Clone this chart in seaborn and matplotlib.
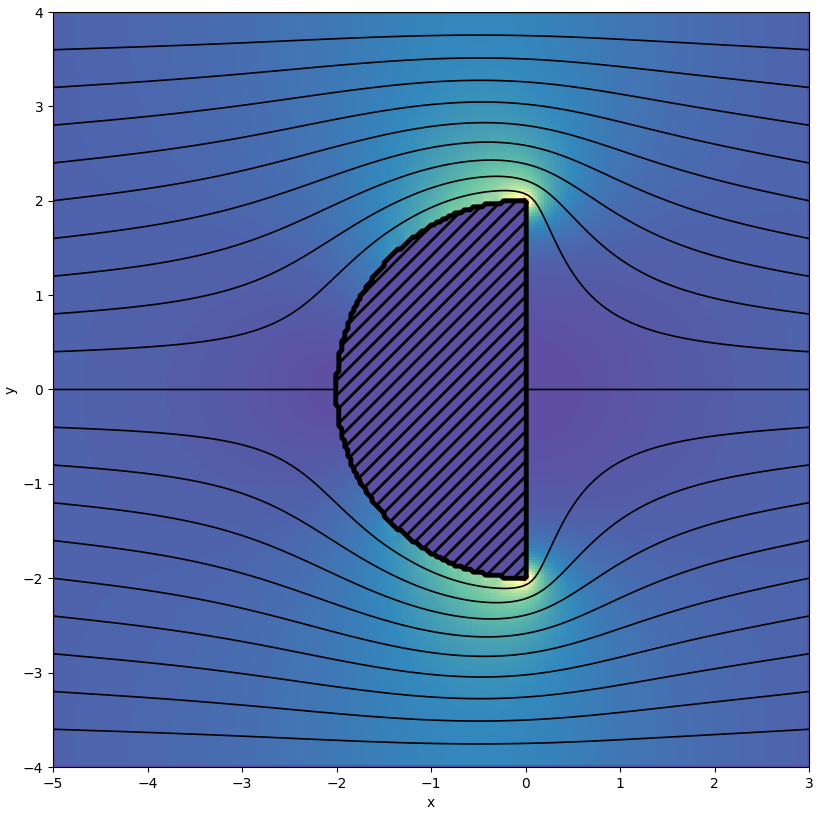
import numpy as np
import matplotlib
matplotlib.use("Agg")
import matplotlib.pyplot as plt
from matplotlib.patches import PathPatch
import seaborn as sns

# ---- data / problem definition ----
x_range = [-5.0, 3.0]
y_range = [-4.0, 4.0]
n_points = [251, 251]
body_radius = [2.0]
stream_levels = [-3.6, -3.2, -2.8, -2.4, -2.0, -1.6, -1.2, -0.8, -0.4, 0.0,
                 0.4, 0.8, 1.2, 1.6, 2.0, 2.4, 2.8, 3.2, 3.6]
x_ticks = [-5, -4, -3, -2, -1, 0, 1, 2, 3]
y_ticks = [-4, -3, -2, -1, 0, 1, 2, 3, 4]

# ---- grid & body (left half-disk) ----
x = np.linspace(x_range[0], x_range[1], n_points[0])
y = np.linspace(y_range[0], y_range[1], n_points[1])
X, Y = np.meshgrid(x, y)
R = body_radius[0]
body = (X**2 + Y**2 <= R**2) & (X <= 0)

# ---- stream function: Laplace with psi=y on box, psi=0 on body ----
psi = Y.copy()
psi[body] = 0.0
fixed = np.zeros_like(body)
fixed[0, :] = fixed[-1, :] = fixed[:, 0] = fixed[:, -1] = True
fixed |= body
ii, jj = np.indices(psi.shape)
red = ((ii + jj) % 2 == 0) & ~fixed
black = ((ii + jj) % 2 == 1) & ~fixed
masks = [red[1:-1, 1:-1].astype(float), black[1:-1, 1:-1].astype(float)]
omega = 2.0 / (1.0 + np.sin(np.pi / n_points[0]))
for it in range(2500):
    for m in masks:
        avg = 0.25 * (psi[2:, 1:-1] + psi[:-2, 1:-1] + psi[1:-1, 2:] + psi[1:-1, :-2])
        psi[1:-1, 1:-1] += omega * (avg - psi[1:-1, 1:-1]) * m

# ---- squared speed from central differences (edges left at zero) ----
h = x[1] - x[0]
speed2 = np.zeros_like(psi)
u = (psi[2:, 1:-1] - psi[:-2, 1:-1]) / (2 * h)
v = -(psi[1:-1, 2:] - psi[1:-1, :-2]) / (2 * h)
speed2[1:-1, 1:-1] = u**2 + v**2
speed2[body] = 0.0

# ---- plot ----
plt.rcParams["font.family"] = ["DejaVu Sans"]
plt.rcParams["contour.negative_linestyle"] = "solid"
fig = plt.figure(figsize=(8.19, 8.13), dpi=100)
ax = fig.add_axes([53 / 819, 46 / 813, 756 / 819, 755 / 813])
cmap = sns.color_palette("Spectral_r", as_cmap=True)
ax.pcolormesh(X, Y, speed2, cmap=cmap, shading="nearest")
lv = [l if l != 0 else 1e-6 for l in stream_levels]
ax.contour(X, Y, psi, levels=sorted(lv), colors="black", linewidths=1.2,
           linestyles="solid")
bm = body.astype(float)
outline = ax.contour(X, Y, bm, levels=[0.5], colors="black", linewidths=3.5,
                     zorder=4)
clip = PathPatch(outline.get_paths()[0], transform=ax.transData,
                 facecolor="none", edgecolor="none")
ax.add_patch(clip)
hatch_step = 15.0 / 94.5
for c in np.arange(-6.0, 6.0, hatch_step):
    ln, = ax.plot([-3.0, 1.0], [-3.0 + c, 1.0 + c], color="black", lw=2.0,
                  zorder=3, solid_capstyle="butt")
    ln.set_clip_path(clip)
ax.set_xlim(x_range)
ax.set_ylim(y_range)
ax.set_xticks(x_ticks)
ax.set_yticks(y_ticks)
ax.set_xlabel("x")
ax.set_ylabel("y")
fig.savefig("out.png", dpi=100)
